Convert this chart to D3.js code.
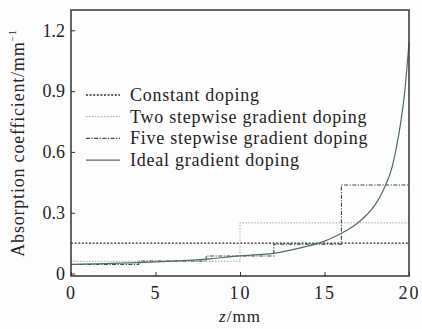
<!DOCTYPE html>
<html>
<head>
<meta charset="utf-8">
<script src="https://cdn.jsdelivr.net/npm/d3@7"></script>
<style>
  html, body { margin: 0; padding: 0; background: #fdfdfd; }
  svg { display: block; }
  text { font-family: "Liberation Serif", "DejaVu Serif", serif; fill: #222; }
</style>
</head>
<body>
<svg id="chart" width="422" height="329"></svg>
<script>
// Absorption coefficient versus depth z for four doping profiles
const xTicks = [0, 5, 10, 15, 20];
const yTicks = [0, 0.3, 0.6, 0.9, 1.2];
const yTickLabels = ["0", "0.3", "0.6", "0.9", "1.2"];

// Constant doping
const constantZ = [0, 20];
const constantA = [0.15, 0.15];

// Two stepwise gradient doping (step edges and level per step)
const twoStepEdges = [0, 10, 20];
const twoStepLevels = [0.06, 0.25];

// Five stepwise gradient doping
const fiveStepEdges = [0, 4, 8, 12, 16, 20];
const fiveStepLevels = [0.045, 0.062, 0.087, 0.145, 0.437];

// Ideal gradient doping
const idealZ = [0, 2, 4, 6, 8, 10, 11, 12, 13, 14, 15, 16, 16.5, 17, 17.5, 18, 18.5, 19, 19.25, 19.5, 19.75, 20];
const idealA = [0.045, 0.049, 0.054, 0.061, 0.071, 0.087, 0.093, 0.100, 0.116, 0.135, 0.160, 0.199, 0.222, 0.252, 0.290, 0.340, 0.415, 0.525, 0.62, 0.74, 0.90, 1.14];

const legendNames = ["Constant doping", "Two stepwise gradient doping", "Five stepwise gradient doping", "Ideal gradient doping"];

const svg = d3.select("#chart");
const m = { left: 71, right: 409, top: 10, bottom: 276 };

const x = d3.scaleLinear().domain([0, 20]).range([m.left, m.right]);
const y = d3.scaleLinear().domain([-0.012, 1.3]).range([m.bottom, m.top]);

// turn step edges + levels into a staircase polyline
function steps(edges, levels) {
  const pts = [];
  levels.forEach((v, i) => {
    pts.push([edges[i], v]);
    pts.push([edges[i + 1], v]);
  });
  return pts;
}

const line = d3.line().x(d => x(d[0])).y(d => y(d[1]));
const smooth = d3.line().x(d => x(d[0])).y(d => y(d[1])).curve(d3.curveMonotoneX);

const series = [
  { pts: constantZ.map((z, i) => [z, constantA[i]]), gen: line, stroke: "#2a2a2a", width: 1.1, dash: "2,1.6" },
  { pts: steps(twoStepEdges, twoStepLevels), gen: line, stroke: "#bab3b6", width: 1.1, dash: "1.5,1.5" },
  { pts: steps(fiveStepEdges, fiveStepLevels), gen: line, stroke: "#3d4550", width: 1.1, dash: "4,1.5,1.2,1.5" },
  { pts: idealZ.map((z, i) => [z, idealA[i]]), gen: smooth, stroke: "#4e6c64", width: 1.2, dash: null }
];

const plot = svg.append("g");
series.forEach(s => {
  plot.append("path")
    .attr("d", s.gen(s.pts))
    .attr("fill", "none")
    .attr("stroke", s.stroke)
    .attr("stroke-width", s.width)
    .attr("stroke-dasharray", s.dash);
});

// axes with inward ticks
const xAxis = svg.append("g").attr("transform", `translate(0,${m.bottom})`)
  .call(d3.axisBottom(x).tickValues(xTicks).tickSize(-4).tickPadding(10).tickFormat(d3.format("d")));
const yAxis = svg.append("g").attr("transform", `translate(${m.left},0)`)
  .call(d3.axisLeft(y).tickValues(yTicks).tickSize(-4).tickPadding(6).tickFormat((d, i) => yTickLabels[i]));
[xAxis, yAxis].forEach(a => {
  a.select(".domain").remove();
  a.selectAll(".tick line").attr("stroke", "#333").attr("stroke-width", 1);
  a.selectAll(".tick text").style("font-family", "'Liberation Serif', serif").style("font-size", "18px").attr("fill", "#222");
});
xAxis.selectAll(".tick text").attr("letter-spacing", "2px");

// frame
svg.append("rect")
  .attr("x", m.left).attr("y", m.top)
  .attr("width", m.right - m.left).attr("height", m.bottom - m.top)
  .attr("fill", "none").attr("stroke", "#333").attr("stroke-width", 1.5);

// legend
const legend = svg.append("g");
legendNames.forEach((name, i) => {
  const ly = 95 + i * 21.7;
  const s = series[i];
  legend.append("line")
    .attr("x1", 86).attr("x2", 120).attr("y1", ly).attr("y2", ly)
    .attr("stroke", s.stroke).attr("stroke-width", s.width + 0.2)
    .attr("stroke-dasharray", s.dash);
  legend.append("text")
    .attr("x", 130).attr("y", ly + 6)
    .style("font-size", "18px")
    .attr("letter-spacing", "0.75px")
    .text(name);
});

// axis titles
const xt = svg.append("text")
  .attr("x", (m.left + m.right) / 2).attr("y", 322)
  .attr("text-anchor", "middle")
  .attr("letter-spacing", "1px")
  .style("font-size", "17px");
xt.append("tspan").style("font-style", "italic").text("z");
xt.append("tspan").text("/mm");

const yt = svg.append("text")
  .attr("transform", `translate(24,${(m.top + m.bottom) / 2}) rotate(-90)`)
  .attr("text-anchor", "middle")
  .attr("letter-spacing", "0.8px")
  .style("font-size", "18px");
yt.append("tspan").text("Absorption coefficient/mm");
yt.append("tspan").attr("dy", -8).style("font-size", "10px").text("−1");
</script>
</body>
</html>
